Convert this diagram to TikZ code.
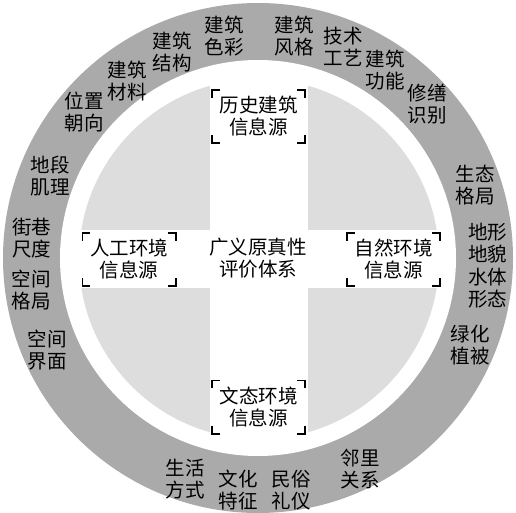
\documentclass[tikz,border=0pt]{standalone}
\usepackage{fontspec}
\setmainfont{Noto Sans CJK SC}
\usepackage{tikz}
\usetikzlibrary{positioning}
\definecolor{ringgray}{HTML}{AAAAAA}
\definecolor{discgray}{HTML}{DDDDDD}
\tikzset{
  tag/.style={align=center,inner sep=0pt,font=\fontsize{19.5}{22}\selectfont},
  srcbox/.style={tag,minimum width=93pt,minimum height=53pt},
  brk/.style={line width=1.6pt}
}
\newcommand\corners[1]{%
  \draw[brk] ([yshift=-8pt]#1.north west) -- (#1.north west) -- ([xshift=8pt]#1.north west);
  \draw[brk] ([yshift=-8pt]#1.north east) -- (#1.north east) -- ([xshift=-8pt]#1.north east);
  \draw[brk] ([yshift=8pt]#1.south west) -- (#1.south west) -- ([xshift=8pt]#1.south west);
  \draw[brk] ([yshift=8pt]#1.south east) -- (#1.south east) -- ([xshift=-8pt]#1.south east);
}

\begin{document}
\begin{tikzpicture}[x=1pt,y=-1pt]
\useasboundingbox (0,0) rectangle (516,513);
\fill[ringgray] (258,258) circle[radius=255pt];
\fill[white] (258,258) circle[radius=198pt];
\fill[discgray] (259,259) circle[radius=180pt];
\fill[white] (210,72) rectangle (308,446);
\fill[white] (72,230) rectangle (446,288);

\node[tag] (core) at (258,258) {广义原真性\\评价体系};
\node[srcbox] (hist) at (258.5,116.5) {历史建筑\\信息源};
\node[srcbox] (art) at (129,259.5) {人工环境\\信息源};
\node[srcbox] (nat) at (393.5,259.5) {自然环境\\信息源};
\node[srcbox] (cult) at (258.5,407) {文态环境\\信息源};
\corners{hist}
\corners{art}
\corners{nat}
\corners{cult}

\node[tag] (bcol) at (224,36) {建筑\\色彩};
\node[tag] (bstr) at (172,52) {建筑\\结构};
\node[tag] (bmat) at (127,81) {建筑\\材料};
\node[tag] (orient) at (84,112) {位置\\朝向};
\node[tag] (texture) at (50,176) {地段\\肌理};
\node[tag] (scale) at (32,238) {街巷\\尺度};
\node[tag] (layout) at (31,290) {空间\\格局};
\node[tag] (iface) at (47,350) {空间\\界面};
\node[tag] (life) at (185,479) {生活\\方式};
\node[tag] (culture) at (238,490) {文化\\特征};
\node[tag] (custom) at (291,490) {民俗\\礼仪};
\node[tag] (neigh) at (360,469) {邻里\\关系};
\node[tag] (green) at (470,345) {绿化\\植被};
\node[tag] (water) at (487.5,288) {水体\\形态};
\node[tag] (terrain) at (487.5,243) {地形\\地貌};
\node[tag] (eco) at (475,185) {生态\\格局};
\node[tag] (repair) at (427,104) {修缮\\识别};
\node[tag] (func) at (385,70) {建筑\\功能};
\node[tag] (craft) at (343,47) {技术\\工艺};
\node[tag] (style) at (294,36) {建筑\\风格};
\end{tikzpicture}
\end{document}
